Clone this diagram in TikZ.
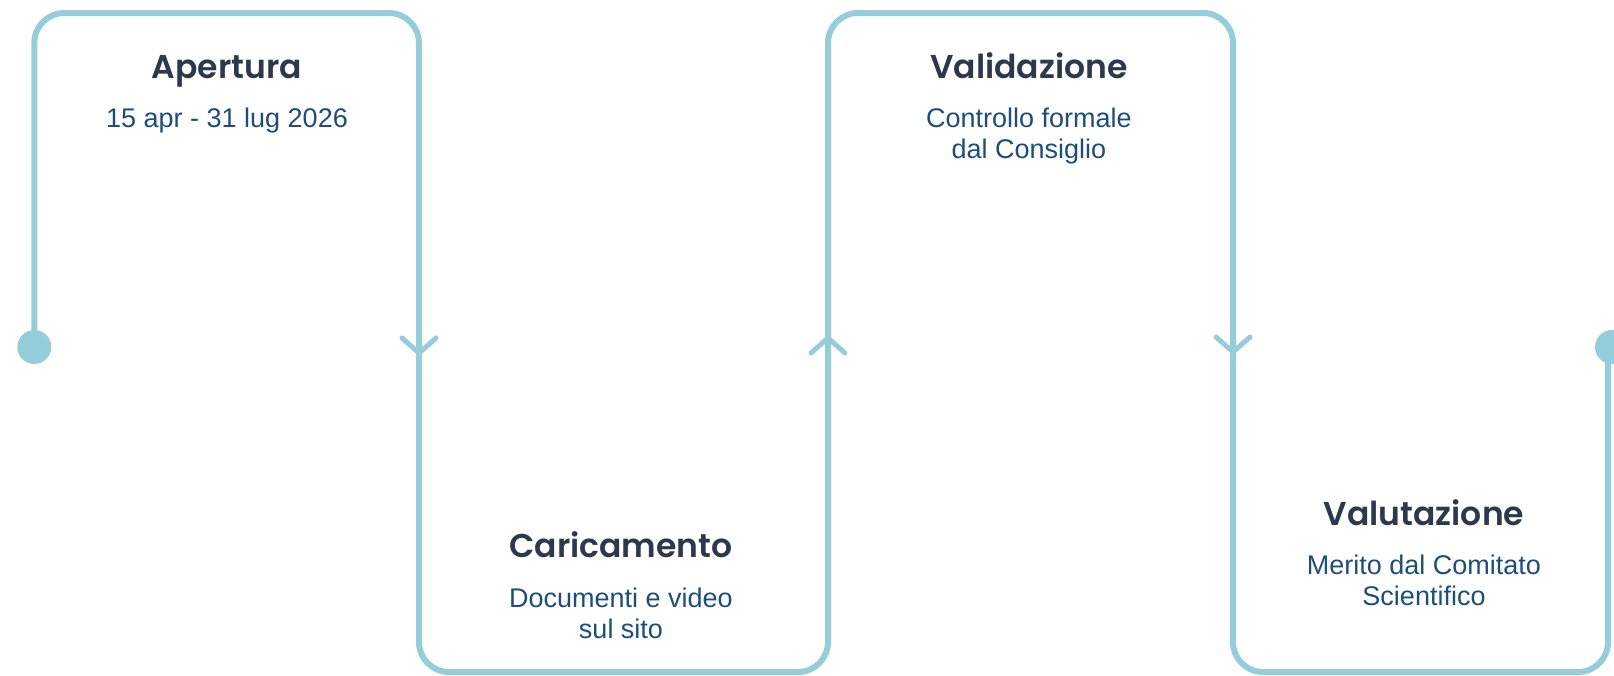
\documentclass[tikz,border=0pt]{standalone}
\usepackage{fontspec}
\setmainfont{Liberation Sans}
\newfontfamily\headfont{Poppins}[UprightFont={* SemiBold}]
\usetikzlibrary{positioning}
\definecolor{lineblue}{RGB}{150,205,218}
\definecolor{headgray}{RGB}{44,57,77}
\definecolor{subblue}{RGB}{30,77,120}

\begin{document}
\begin{tikzpicture}[x = 1pt, y = -1pt,
    track/.style = { draw = lineblue, line width = 6pt, rounded corners = 30pt },
    chev/.style = { draw = lineblue, line width = 5pt, line cap = round, line join = round },
    dot/.style = { circle, fill = lineblue, minimum size = 34pt, inner sep = 0 },
    head/.style = { anchor = base, inner sep = 0, text = headgray,
        font = \headfont\fontsize{33}{40}\selectfont },
    sub/.style = { inner sep = 0, align = center, text = subblue,
        font = \fontsize{27}{31}\selectfont }]
    \useasboundingbox (0,0) rectangle (1614,675);

    % the track
    \coordinate (s) at (34.3,347);
    \coordinate (e) at (1612,347);
    \draw[track] (s) -- (34.3,13) -- (419,13) -- (419,672) -- (828,672)
        -- (828,13) -- (1233,13) -- (1233,672) -- (1608,672) -- (1608,347);
    \node[dot] (start) at (s) {};
    \node[dot] (end) at (e) {};

    % direction marks
    \coordinate (m1) at (419,353);
    \coordinate (m2) at (828,338);
    \coordinate (m3) at (1233,352);
    \draw[chev] ([shift = {(-17,-15)}]m1) -- (m1) -- ([shift = {(17,-15)}]m1);
    \draw[chev] ([shift = {(-17,15)}]m2) -- (m2) -- ([shift = {(17,15)}]m2);
    \draw[chev] ([shift = {(-17,-15)}]m3) -- (m3) -- ([shift = {(17,-15)}]m3);

    % steps (base of a two-line text is its last line)
    \node[head] (apertura) at (227,78) {Apertura};
    \node[sub, below = 49pt of apertura.base, anchor = base] (aperturaSub) {15 apr - 31 lug 2026};

    \node[head] (caricamento) at (621,557) {Caricamento};
    \node[sub, below = 81pt of caricamento.base, anchor = base] (caricamentoSub) {Documenti e video \\ sul sito};

    \node[head] (validazione) at (1029,78) {Validazione};
    \node[sub, below = 80pt of validazione.base, anchor = base] (validazioneSub) {Controllo formale \\ dal Consiglio};

    \node[head] (valutazione) at (1424,525) {Valutazione};
    \node[sub, below = 80pt of valutazione.base, anchor = base] (valutazioneSub) {Merito dal Comitato \\ Scientifico};
\end{tikzpicture}
\end{document}
